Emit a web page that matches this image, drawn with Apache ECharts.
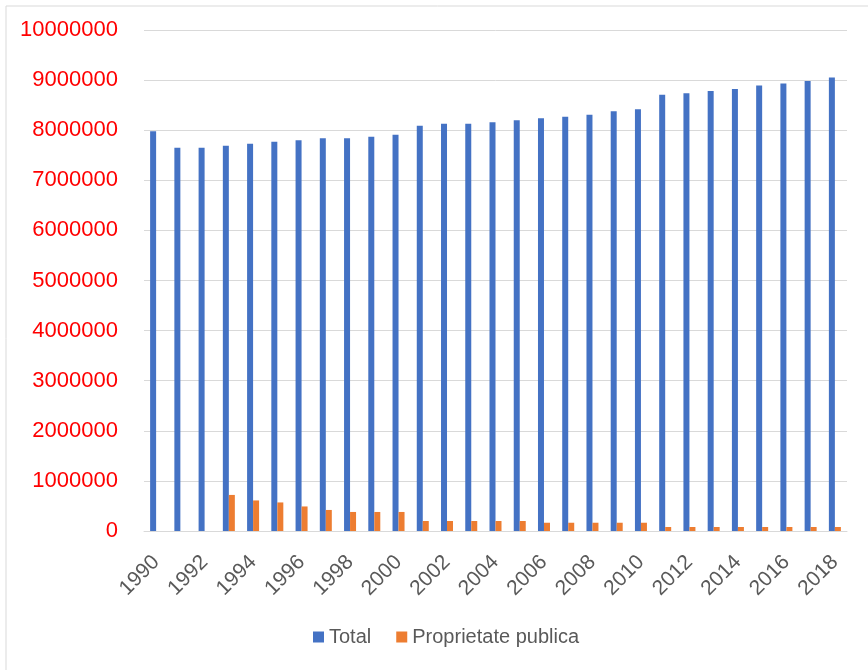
<!DOCTYPE html>
<html>
<head>
<meta charset="utf-8">
<style>
  html, body { margin: 0; padding: 0; background: #ffffff; }
  #chart { width: 868px; height: 670px; }
</style>
<script src="https://cdn.jsdelivr.net/npm/echarts@6/dist/echarts.min.js"></script>
</head>
<body>
<div id="chart"></div>
<script>
// Years on the category axis
const years = [
  '1990','1991','1992','1993','1994','1995','1996','1997','1998','1999',
  '2000','2001','2002','2003','2004','2005','2006','2007','2008','2009',
  '2010','2011','2012','2013','2014','2015','2016','2017','2018'
];

// Total
const totalValues = [
  7980000, 7650000, 7650000, 7690000, 7730000, 7770000, 7800000, 7840000, 7840000, 7870000,
  7910000, 8090000, 8130000, 8130000, 8160000, 8200000, 8240000, 8270000, 8310000, 8380000,
  8420000, 8710000, 8740000, 8780000, 8820000, 8890000, 8930000, 8980000, 9050000
];

// Proprietate publica
const publicValues = [
  null, null, null, 720000, 610000, 570000, 490000, 420000, 380000, 380000,
  380000, 200000, 200000, 200000, 200000, 200000, 165000, 165000, 165000, 165000,
  165000, 80000, 80000, 80000, 80000, 80000, 80000, 80000, 80000
];

const seriesNames = ['Total', 'Proprietate publica'];

const chart = echarts.init(document.getElementById('chart'), null, { renderer: 'canvas' });

chart.setOption({
  animation: false,
  backgroundColor: '#ffffff',
  graphic: [{
    type: 'rect',
    shape: { x: 6, y: 6, width: 900, height: 700 },
    style: { fill: 'none', stroke: '#d9d9d9', lineWidth: 1 },
    silent: true
  }],
  grid: { left: 144, right: 21, top: 30, bottom: 139, containLabel: false },
  legend: {
    data: seriesNames,
    bottom: 18,
    left: 308,
    itemWidth: 11,
    itemHeight: 11,
    itemGap: 25,
    icon: 'rect',
    textStyle: { color: '#595959', fontSize: 20, fontFamily: 'Liberation Sans' }
  },
  xAxis: {
    type: 'category',
    data: years,
    axisLine: { show: true, lineStyle: { color: '#d9d9d9', width: 1 } },
    axisTick: { show: false },
    axisLabel: {
      interval: 1,
      rotate: 45,
      margin: 28,
      color: '#595959',
      fontSize: 21,
      fontFamily: 'Liberation Sans'
    }
  },
  yAxis: {
    type: 'value',
    min: 0,
    max: 10000000,
    interval: 1000000,
    axisLine: { show: false },
    axisTick: { show: false },
    splitLine: { lineStyle: { color: '#d9d9d9', width: 1 } },
    axisLabel: {
      margin: 26,
      color: '#ff0000',
      fontSize: 22,
      fontFamily: 'Liberation Sans',
      formatter: (v) => String(v)
    }
  },
  series: [
    {
      name: seriesNames[0],
      type: 'bar',
      data: totalValues,
      barWidth: 6,
      barGap: '0%',
      itemStyle: { color: '#4472c4' }
    },
    {
      name: seriesNames[1],
      type: 'bar',
      data: publicValues,
      barWidth: 6,
      barGap: '0%',
      itemStyle: { color: '#ed7d31' }
    }
  ]
});
</script>
</body>
</html>
